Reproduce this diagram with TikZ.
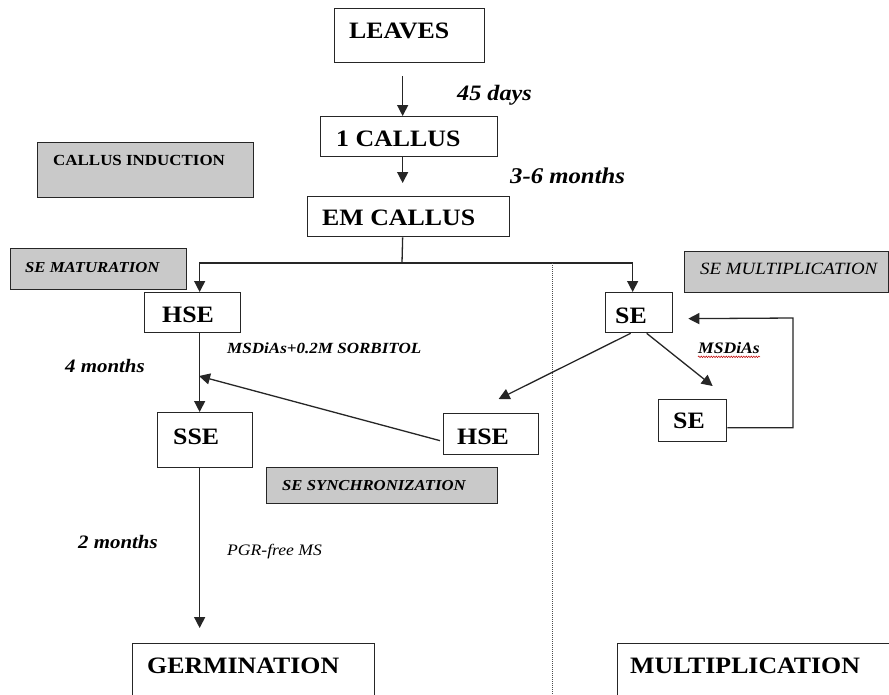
\documentclass[tikz,border=0pt]{standalone}
\usepackage{fontspec}
\setmainfont{Liberation Serif}[FakeStretch=1.1]
\usetikzlibrary{arrows.meta,decorations.pathmorphing}
\begin{document}
\begin{tikzpicture}[x=1pt,y=-1pt,
  wbox/.style={draw=black!85, line width=1.3pt, fill=white, rectangle, anchor=north west, inner sep=0pt},
  gbox/.style={wbox, fill=black!21},
  btxt/.style={anchor=west, inner sep=0pt, font=\fontsize{23.5}{26}\selectfont\bfseries},
  gtxt/.style={anchor=west, inner sep=0pt, font=\fontsize{15.4}{18}\selectfont\bfseries},
  gitxt/.style={anchor=west, inner sep=0pt, font=\fontsize{15.2}{18}\selectfont\bfseries\itshape},
  lbl/.style={anchor=west, inner sep=0pt, font=\bfseries\itshape},
  ln/.style={line width=1.3pt, draw=black!85},
  arr/.style={ln, -{Triangle[length=11pt,width=11pt]}},
]
\useasboundingbox (0,0) rectangle (889,694);
\clip (0,0) rectangle (889,694);
\fill[white] (0,0) rectangle (889,694);

% grey stage boxes
\node[gbox, minimum width=216pt, minimum height=55pt] (gci) at (37,142) {};
\node[gtxt] (gciT) at (53,160) {CALLUS INDUCTION};
\node[gbox, minimum width=176pt, minimum height=41pt] (gsm) at (10,248) {};
\node[gitxt] (gsmT) at (25,268) {SE MATURATION};
\node[gbox, minimum width=204pt, minimum height=41pt] (gsmul) at (684,251) {};
\node[anchor=west, inner sep=0pt, font=\fontsize{17.2}{20}\selectfont\itshape] (gsmulT) at (700,269) {SE MULTIPLICATION};
\node[gbox, minimum width=231pt, minimum height=36pt] (gss) at (266,467) {};
\node[gitxt] (gssT) at (282,486) {SE SYNCHRONIZATION};

% white boxes
\node[wbox, minimum width=150pt, minimum height=54pt] (leaves) at (334,8) {};
\node[btxt] (leavesT) at (349,31) {LEAVES};
\node[wbox, minimum width=177pt, minimum height=40pt] (callus1) at (320,116) {};
\node[btxt] (callus1T) at (336,139) {1 CALLUS};
\node[wbox, minimum width=202pt, minimum height=40pt] (em) at (307,196) {};
\node[btxt] (emT) at (322,218) {EM CALLUS};
\node[wbox, minimum width=96pt, minimum height=40pt] (hse1) at (144,292) {};
\node[btxt] (hse1T) at (162,315) {HSE};
\node[wbox, minimum width=67pt, minimum height=40pt] (se1) at (605,292) {};
\node[btxt] (se1T) at (615,316) {SE};
\node[wbox, minimum width=68pt, minimum height=42pt] (se2) at (658,399) {};
\node[btxt] (se2T) at (673,421) {SE};
\node[wbox, minimum width=95pt, minimum height=41pt] (hse2) at (443,413) {};
\node[btxt] (hse2T) at (457,437) {HSE};
\node[wbox, minimum width=95pt, minimum height=55pt] (sse) at (157,412) {};
\node[btxt] (sseT) at (173,437) {SSE};
\node[wbox, minimum width=242pt, minimum height=70pt] (germ) at (132,643) {};
\node[btxt] (germT) at (147,666) {GERMINATION};
\node[wbox, minimum width=290pt, minimum height=70pt] (mult) at (617,643) {};
\node[btxt] (multT) at (630,666) {MULTIPLICATION};

% labels
\node[lbl, font=\fontsize{22}{24}\selectfont\bfseries\itshape] (l45) at (457,95) {45 days};
\node[lbl, font=\fontsize{22.5}{24}\selectfont\bfseries\itshape] (l36) at (510,176) {3-6 months};
\node[lbl, font=\fontsize{15.5}{18}\selectfont\bfseries\itshape] (lsorb) at (227,348) {MSDiAs+0.2M SORBITOL};
\node[lbl, font=\fontsize{19}{22}\selectfont\bfseries\itshape] (l4m) at (65,366) {4 months};
\node[lbl, font=\fontsize{19}{22}\selectfont\bfseries\itshape] (l2m) at (78,542) {2 months};
\node[lbl, font=\fontsize{16}{18}\selectfont\itshape] (lpgr) at (227,552) {PGR-free MS};
\node[lbl, font=\fontsize{16}{18}\selectfont\bfseries\itshape] (lms) at (698,348) {MSDiAs};
\draw[red!75!black, line width=0.5pt, decorate, decoration={snake, amplitude=0.8pt, segment length=2.5pt}]
  ([yshift=-3pt]lms.south west) -- ([yshift=-3pt]lms.south east);

% coordinates
\coordinate (split) at (402,263);
\coordinate (merge) at (199,376);
\coordinate (loopc) at (793,318);
\coordinate (dtop) at (552,263);
\coordinate (dbot) at (552,694);

% connectors
\draw[arr] ([shift={(-7,13)}]leaves.south) -- ([shift={(-6.5,0)}]callus1.north);
\draw[arr] ([shift={(-6.5,0)}]callus1.south) -- ([shift={(-6,-13)}]em.north);
\draw[ln] ([shift={(-6,0)}]em.south) -- (split);
\draw[arr] (split) -| ([shift={(7,0)}]hse1.north);
\draw[arr] (split) -| ([shift={(-6.5,0)}]se1.north);
\draw[arr] ([shift={(7,0)}]hse1.south) -- ([shift={(-5.5,0)}]sse.north);
\draw[arr] ([shift={(-3,6.5)}]hse2.west) -- (merge);
\draw[arr] ([shift={(-8.5,0)}]se1.south) -- ([shift={(7.5,-14)}]hse2.north);
\draw[arr] ([shift={(7.5,0)}]se1.south) -- ([shift={(20,-13)}]se2.north);
\draw[arr] ([shift={(0,7)}]se2.east) -| (loopc) -- ([shift={(15,6)}]se1.east);
\draw[arr] ([shift={(-5.5,0)}]sse.south) -- ([shift={(-54,-15)}]germ.north);
\draw[black!70, line width=0.7pt, dash pattern=on 1pt off 1pt] (dtop) -- (dbot);
\end{tikzpicture}
\end{document}
